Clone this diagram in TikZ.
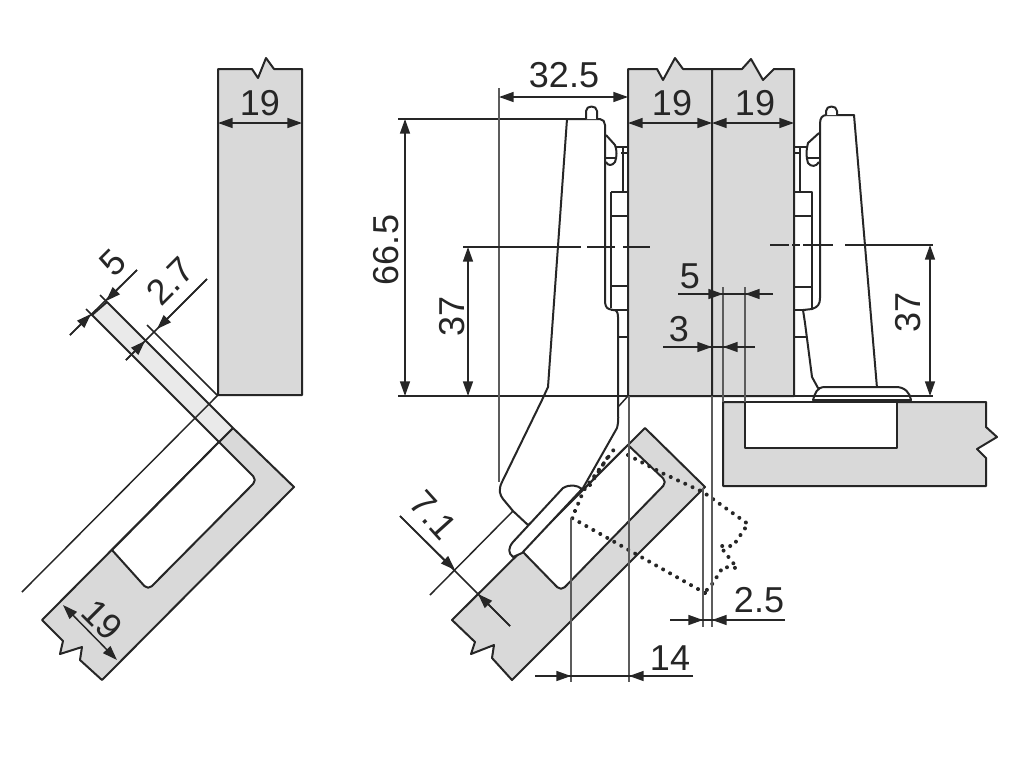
\documentclass[tikz,border=0pt]{standalone}
\usepackage{fontspec}
\setmainfont{Liberation Sans}
\usetikzlibrary{arrows.meta}
\definecolor{ink}{HTML}{262626}
\definecolor{panel}{HTML}{D9D9D9}
\definecolor{strip}{HTML}{EAEAEA}
\tikzset{
  body/.style={draw=ink,line width=1.5pt,line join=round},
  solid panel/.style={body,fill=panel},
  thin line/.style={draw=ink,line width=1.1pt},
  grey line/.style={draw=ink!75,line width=1.2pt},
  dim both/.style={thin line,{Triangle[length=11pt,width=7.5pt]}-{Triangle[length=11pt,width=7.5pt]}},
  dim tip/.style={thin line,-{Triangle[length=11pt,width=7.5pt]}},
  dim text/.style={inner sep=0pt,font=\fontsize{27}{27}\selectfont,text=ink},
  phantom line/.style={draw=ink,line width=3pt,line cap=round,dash pattern=on 0.01pt off 6pt},
}
\begin{document}
\begin{tikzpicture}[x=0.75pt,y=-0.75pt]
\useasboundingbox (0,0) rectangle (1024,768);
\fill[white] (0,0) rectangle (1024,768);

% ---------- left detail ----------
\draw[solid panel] (218,69) -- (252,69) -- (258,78) -- (266,58) -- (274,69) -- (302,69) -- (302,395) -- (218,395) -- cycle;
\draw[solid panel] (233,428) -- (294,487) -- (102,680) -- (80,660) -- (82,647) -- (60,654) -- (63,641) -- (42,620) -- cycle;
\draw[body,fill=white] (219,442) [rounded corners=4pt] -- (257,480) -- (148,590) [sharp corners] -- (112,550) -- cycle;
\draw[body,fill=strip] (107,302) -- (233,428) -- (219,442) -- (92,315) -- cycle;
\draw[thin line] (22,592) -- (218,395);
\draw[thin line] (155,333) -- (217,395);
% dimension 5
\draw[thin line] (137,270) -- (70,335);
\draw[dim tip] (137,270) -- (106,301);
\draw[dim tip] (70,335) -- (91,314);
\draw[thin line] (100,295) -- (107,302);
\draw[thin line] (86,309) -- (92,315);
% dimension 2.7
\draw[thin line] (207,279) -- (126,360);
\draw[dim tip] (207,279) -- (157,329);
\draw[dim tip] (126,360) -- (145,341);
\draw[thin line] (147,325) -- (155,333);
% dimension 19
\draw[dim both] (63,605) -- (117,660);
\node[dim text,rotate=45] (tFive) at (113,263) {5};
\node[dim text,rotate=45] (tTwoSeven) at (170,281) {2.7};
\node[dim text,rotate=-45] (tNineA) at (102,620) {19};

% ---------- centre panels ----------
\draw[solid panel] (628,69) -- (657,69) -- (663,80) -- (675,58) -- (683,69) -- (712,69) -- (712,396) -- (628,396) -- cycle;
\draw[solid panel] (712,69) -- (742,69) -- (751,59) -- (763,80) -- (774,69) -- (794,69) -- (794,396) -- (712,396) -- cycle;

% base panel
\draw[solid panel] (723,402) -- (986,402) -- (986,427) -- (997,437) -- (977,449) -- (986,458) -- (986,486) -- (723,486) -- cycle;
\draw[body,fill=white] (745,402) -- (745,448) -- (897,448) -- (897,402) -- cycle;

% door panel, opened
\draw[solid panel] (645,428) -- (705,487) -- (512,680) -- (492,658) -- (494,645) -- (471,654) -- (475,642) -- (452,620) -- cycle;
\draw[body,fill=white] (628,445) [rounded corners=4pt] -- (667,482) -- (561,591) [sharp corners] -- (522,551) -- cycle;

% ---------- left hinge ----------
\draw[body,fill=white] (567,119) -- (548,387) -- (542,400) -- (502,482) .. controls (498,490) and (500,495) .. (503,499) -- (513,511) -- (528,525) -- (583,488) -- (617,428) .. controls (619,420) and (618,415) .. (618,407) -- (618,317) .. controls (618,311) and (616,310) .. (613,310) -- (609,309) .. controls (606,308) and (605,305) .. (605,300) -- (605,125) .. controls (605,122) and (603,119) .. (600,119) -- cycle;
\draw[body,fill=white] (586,119) -- (586,111) .. controls (586,105) and (597,105) .. (597,111) -- (597,119);
\draw[body] (606,135) -- (615,145) .. controls (617,150) and (617,157) .. (615,162) .. controls (612,166) and (608,166) .. (606,162);
\draw[thin line] (606,158) -- (615,158);
\draw[body] (615,147) -- (628,147);
\draw[thin line] (621,153) -- (628,153);
\draw[body] (623,147) -- (623,192);
\draw[body] (611,192) -- (628,192);
\draw[body] (611,192) -- (611,308);
\draw[thin line] (611,216) -- (628,216);
\draw[thin line] (611,286) -- (628,286);
\draw[thin line] (611,310) -- (628,310);
\draw[thin line] (618,337) -- (628,337);
\draw[thin line] (618,407) -- (628,396);
% plate on door
\draw[body,fill=white] (582,489) .. controls (577,485) and (570,484) .. (563,488) -- (513,542) .. controls (508,548) and (508,553) .. (513,557) -- (522,553) -- cycle;

% ---------- right hinge ----------
\draw[body,fill=white] (854,115) -- (877,388) -- (818,388) -- (812,377) -- (805,323) -- (803,310) -- (812,309) .. controls (818,307) and (820,304) .. (820,298) -- (820,124) .. controls (820,118) and (822,115) .. (827,115) -- cycle;
\draw[body,fill=white] (826,115) -- (826,111) .. controls (826,105) and (837,105) .. (837,111) -- (837,115);
\draw[body] (819,133) -- (808,143) .. controls (806,150) and (806,157) .. (808,163) .. controls (811,167) and (816,167) .. (819,162);
\draw[thin line] (808,158) -- (819,158);
\draw[body] (795,147) -- (807,147);
\draw[thin line] (795,153) -- (801,153);
\draw[body] (800,147) -- (800,192);
\draw[body] (795,192) -- (812,192) -- (812,309);
\draw[thin line] (795,216) -- (812,216);
\draw[thin line] (795,287) -- (812,287);
\draw[thin line] (795,310) -- (806,310);
\draw[thin line] (795,337) -- (807,337);
\draw[body,fill=white] (813,400) .. controls (815,393) and (817,387) .. (825,387) -- (896,387) .. controls (905,387) and (910,393) .. (911,400) -- cycle;

% ---------- phantom outline ----------
\draw[phantom line] (705,593) -- (572,518) -- (584,490) -- (615,448);
\draw[phantom line] (590,485) -- (611,452);
\draw[phantom line] (628,455) -- (662,473) -- (703,492) -- (748,524) -- (733,546) -- (720,546) -- (737,568) -- (723,567) -- (713,583) -- (705,592);

% ---------- reference lines ----------
\draw[thin line] (398,119) -- (567,119);
\draw[thin line] (398,396) -- (933,396);
\draw[grey line] (499,88) -- (499,482);
\draw[grey line] (629,396) -- (629,682);
\draw[grey line] (571,518) -- (571,682);
\draw[grey line] (703,488) -- (703,627);
\draw[grey line] (712,396) -- (712,627);
\draw[grey line] (723,287) -- (723,402);
\draw[grey line] (745,287) -- (745,402);
\draw[thin line] (463,247) -- (581,247);
\draw[thin line] (587,247) -- (615,247);
\draw[thin line] (623,247) -- (650,247);
\draw[thin line] (770,245) -- (789,245);
\draw[thin line] (792,245) -- (800,245);
\draw[thin line] (803,245) -- (833,245);
\draw[thin line] (845,245) -- (933,245);
\draw[thin line] (513,511) -- (430,595);

% ---------- main dimensions ----------
\draw[dim both] (218,123) -- (302,123);
\draw[dim both] (628,123) -- (712,123);
\draw[dim both] (712,123) -- (794,123);
\draw[dim both] (499,97) -- (628,97);
\draw[dim both] (405,119) -- (405,396);
\draw[dim both] (468,247) -- (468,396);
\draw[dim both] (930,245) -- (930,396);
% 5
\draw[thin line] (678,294) -- (773,294);
\draw[dim tip] (690,294) -- (723,294);
\draw[dim tip] (773,294) -- (745,294);
% 3
\draw[thin line] (663,347) -- (755,347);
\draw[dim tip] (680,347) -- (712,347);
\draw[dim tip] (755,347) -- (723,347);
% 14
\draw[thin line] (535,676) -- (693,676);
\draw[dim tip] (535,676) -- (571,676);
\draw[dim tip] (693,676) -- (629,676);
% 2.5
\draw[thin line] (670,620) -- (785,620);
\draw[dim tip] (670,620) -- (703,620);
\draw[dim tip] (785,620) -- (712,620);
% 7.1
\draw[thin line] (400,516) -- (510,626);
\draw[dim tip] (400,516) -- (455,570);
\draw[dim tip] (510,626) -- (478,594);

\node[dim text] (tNineB) at (260,103) {19};
\node[dim text] (tNineC) at (672,103) {19};
\node[dim text] (tNineD) at (755,103) {19};
\node[dim text] (tThirtyTwo) at (564,75) {32.5};
\node[dim text,rotate=90] (tSixtySix) at (386,250) {66.5};
\node[dim text,rotate=90] (tThirtySevenA) at (452,316) {37};
\node[dim text,rotate=90] (tThirtySevenB) at (908,312) {37};
\node[dim text] (tFiveB) at (690,276) {5};
\node[dim text] (tThree) at (679,329) {3};
\node[dim text] (tFourteen) at (670,658) {14};
\node[dim text] (tTwoFive) at (759,600) {2.5};
\node[dim text,rotate=-48] (tSevenOne) at (433,515) {7.1};
\end{tikzpicture}
\end{document}
